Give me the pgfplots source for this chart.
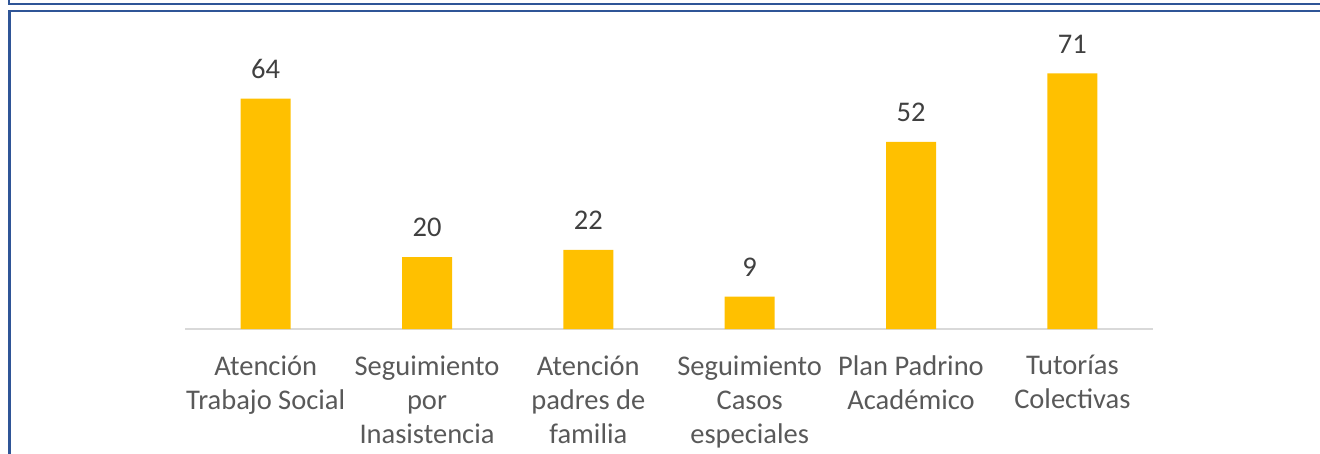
\documentclass[border=0pt]{standalone}
\usepackage{pgfplots}
\pgfplotsset{compat=1.18}
\usepackage{fontspec}
\setmainfont{Carlito}
\definecolor{barc}{HTML}{FFC000}
\definecolor{framec}{HTML}{2F5597}
\definecolor{lblc}{HTML}{595959}
\definecolor{numc}{HTML}{404040}
\definecolor{axc}{HTML}{D9D9D9}
\begin{document}
\begin{tikzpicture}
\useasboundingbox (-185bp,-125bp) rectangle (1135bp,329bp);
\draw[framec, line width=2.5bp] (-176bp,334bp) -- (-176bp,325bp) -- (1140bp,325bp);
\draw[framec, line width=2.5bp] (1140bp,318bp) -- (-175.5bp,318bp) -- (-175.5bp,-130bp);
\begin{axis}[
  at={(0,0)}, anchor=south west,
  scale only axis, width=968bp, height=288bp,
  xmin=-0.5, xmax=5.5, ymin=0, ymax=80,
  /pgf/number format/assume math mode=true,
  axis x line*=bottom, axis y line=none,
  x axis line style={axc, line width=1.3bp, -},
  major tick length=0pt,
  xtick={0,1,2,3,4,5},
  xticklabels={{Atención\\Trabajo Social},{Seguimiento\\por\\Inasistencia},{Atención\\padres de\\familia},{Seguimiento\\Casos\\especiales},{Plan Padrino\\Académico},{Tutorías\\Colectivas}},
  xticklabel style={align=center, text=lblc, font=\fontsize{28.5bp}{34bp}\selectfont, yshift=-23bp},
  ybar, bar width=50bp,
  nodes near coords,
  every node near coord/.append style={text=numc, font=\fontsize{28.5bp}{34bp}\selectfont, inner sep=0pt, anchor=south, yshift=20bp},
  clip=false,
]
\addplot[draw=none, fill=barc] coordinates {(0,64) (1,20) (2,22) (3,9) (4,52) (5,71)};
\end{axis}
\end{tikzpicture}
\end{document}
